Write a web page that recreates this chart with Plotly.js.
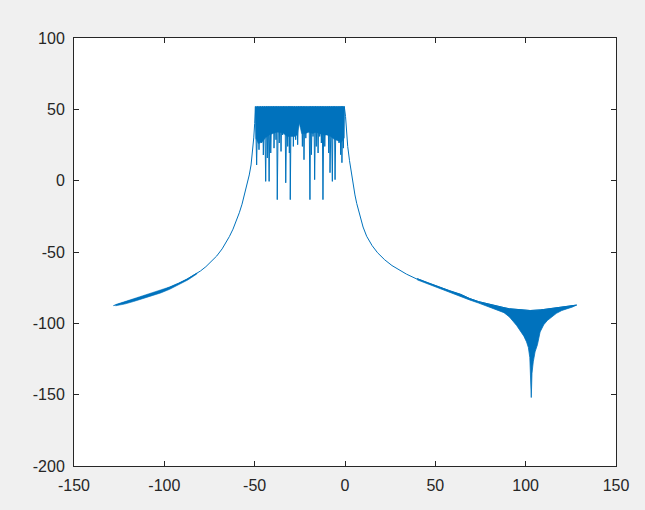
<!DOCTYPE html>
<html>
<head>
<meta charset="utf-8">
<script src="https://cdn.plot.ly/plotly-3.0.1.min.js"></script>
<style>
  html, body { margin: 0; padding: 0; background: #f0f0f0; }
  #chart { width: 645px; height: 510px; }
</style>
</head>
<body>
<div id="chart"></div>
<script>
// ---- Data ----
// Left skirt (centre line)
const leftX = [-128.2, -124, -120, -116, -112, -108, -104, -100, -96, -92, -88, -84, -80, -77, -74, -71, -68, -66, -64, -62, -60, -58.5, -57, -55.5, -54, -53, -52, -51.2, -50.5, -50, -49.6];
const leftY = [-87.6, -86.0, -84.4, -82.8, -81.1, -79.7, -78.1, -76.3, -74.3, -72.0, -69.5, -66.6, -63.3, -60.3, -56.9, -52.8, -47.8, -43.8, -39.2, -34.0, -28.0, -22.5, -16.5, -9.5, -2.0, 4, 11, 19, 30, 40, 52];

// Thin band on the far-left skirt
const leftBandX  = [-127, -122, -117, -112, -107, -102, -97, -92, -87, -82];
const leftBandHi = [-86.9, -84.9, -82.8, -80.8, -78.9, -76.8, -74.5, -71.7, -68.6, -64.8];
const leftBandLo = [-87.7, -86.5, -84.7, -82.7, -80.9, -78.7, -76.1, -73.1, -69.6, -65.4];

const topPeakX = [-49.6, -48.3, -46.9, -45.6, -44.5, -43.4, -42.5, -41.5, -40.5, -39.6, -38.7, -37.8, -36.9, -35.9, -34.9, -34.0, -33.2, -32.2, -31.2, -30.5, -29.8, -28.9, -27.9, -26.7, -25.7, -24.8, -24.0, -23.1, -22.2, -21.1, -19.9, -19.0, -18.1, -17.2, -16.3, -15.4, -14.4, -13.5, -12.6, -11.7, -10.6, -9.5, -8.6, -7.6, -6.6, -5.9, -4.9, -3.8, -2.8, -2.0, -1.3, -0.4];
const topPeakY = [52, 52, 52, 52, 52, 52, 52, 52, 52, 52, 52, 52, 52, 52, 52, 52, 52, 52, 52, 52, 52, 52, 52, 52, 52, 52, 52, 52, 52, 52, 52, 52, 52, 52, 52, 52, 52, 52, 52, 52, 52, 52, 52, 52, 52, 52, 52, 52, 52, 52, 52, 52];
const topDipX = [-48.9, -47.6, -46.1, -45.2, -43.9, -43.0, -42.0, -41.1, -40.0, -39.3, -38.2, -37.5, -36.4, -35.4, -34.5, -33.6, -32.8, -31.7, -30.8, -30.3, -29.3, -28.6, -27.3, -26.2, -25.2, -24.5, -23.6, -22.7, -21.7, -20.5, -19.4, -18.6, -17.7, -16.8, -15.9, -14.9, -14.0, -13.1, -12.2, -11.2, -10.1, -9.0, -8.3, -7.0, -6.3, -5.5, -4.4, -3.3, -2.4, -1.7, -0.9];
const topDipY = [11, 21.7, 26.5, 18, -0.5, 15.9, -0.5, 19.4, 35.7, 22.8, 28.7, -13.3, 26.4, 20.5, 32, 45, -1.5, 24, 19.4, -13.3, 35.7, 24, 28.7, 25.2, 49, 43.8, 24, 14.7, 29.8, 35.7, -13.3, 18.2, 31, 0.7, 24, 19.4, 31, 26.4, -13.3, 24, 35.7, 19.4, 5.6, -0.5, 31, 0.7, 28.7, 26.4, 18.2, 12.6, 22.8];

// Solid (densely filled) part of the passband: lower edge
const solidX  = [-49.5, -48, -46, -44, -42, -40, -38, -36, -34, -32, -30, -28, -26.5, -25.3, -24, -22, -20, -18, -16, -14, -12, -10, -8, -6, -4, -2, -0.4];
const solidLo = [30, 26, 27, 30, 32, 33, 34, 34, 33, 31, 31, 31, 32, 40, 33, 33, 34, 33, 34, 33, 32, 32, 31, 29, 28, 27, 30];

// Right skirt (centre line)
const rightX = [0.3, 0.8, 1.5, 2.5, 3.5, 4.5, 5.5, 6.5, 8, 10, 12, 15, 18, 22, 26, 30, 34, 40];
const rightY = [45, 34, 24, 14, 5, -3, -10, -16, -24, -32.5, -39, -45.5, -50.5, -55.5, -59.5, -62.7, -65.5, -69.1];

// Aliased band on the right: upper and lower envelopes
const bandX  = [40, 46, 52, 58, 64, 69, 74, 80, 84, 88, 91, 93, 95, 97, 99, 100.5, 101.5, 102.3, 102.8, 103.1, 103.5, 104.2, 105.2, 106.5, 108, 110, 112, 114.2, 117, 120, 123, 126, 128.2];
const bandHi = [-68.7, -71.7, -74.6, -77.2, -79.7, -82.6, -84.8, -86.8, -88, -89, -89.8, -90.1, -90.4, -90.7, -90.9, -91, -91, -91, -91, -91, -91, -91, -91, -91, -90.6, -90.3, -90, -89.6, -89, -88.4, -87.9, -87.5, -87.2];
const bandLo = [-69.5, -72.7, -75.8, -78.5, -81.2, -83.6, -85.8, -88.5, -90.5, -92.5, -95.5, -98.5, -101.5, -105, -109, -113, -117, -124, -135, -152, -135, -127, -120, -115, -106, -101, -98, -96, -93, -91, -89.8, -88.5, -87.2];

// Axis ticks
const xTicks = [-150, -100, -50, 0, 50, 100, 150];
const yTicks = [-200, -150, -100, -50, 0, 50, 100];

// ---- Build traces ----
const blue = '#0072BD';

// Interleave passband peaks and dips
const topX = [], topY = [];
for (let i = 0; i < topPeakX.length; i++) {
  topX.push(topPeakX[i]); topY.push(topPeakY[i]);
  if (i < topDipX.length) { topX.push(topDipX[i]); topY.push(topDipY[i]); }
}

const mainX = leftX.concat(topX, rightX, bandX);
const mainY = leftY.concat(topY, rightY, bandHi);

const solidTop = solidX.map(() => topPeakY[0]);

const traces = [
  {
    x: solidX.concat(solidX.slice().reverse()),
    y: solidTop.concat(solidLo.slice().reverse()),
    type: 'scatter', mode: 'lines', fill: 'toself', fillcolor: blue,
    line: { color: blue, width: 0.5 }, hoverinfo: 'skip', showlegend: false
  },
  {
    x: mainX, y: mainY, type: 'scatter', mode: 'lines',
    line: { color: blue, width: 1 }, hoverinfo: 'skip', showlegend: false
  },
  {
    x: leftBandX.concat(leftBandX.slice().reverse()),
    y: leftBandHi.concat(leftBandLo.slice().reverse()),
    type: 'scatter', mode: 'lines', fill: 'toself', fillcolor: blue,
    line: { color: blue, width: 0.6 }, hoverinfo: 'skip', showlegend: false
  },
  {
    x: bandX.concat(bandX.slice().reverse()),
    y: bandHi.concat(bandLo.slice().reverse()),
    type: 'scatter', mode: 'lines', fill: 'toself', fillcolor: blue,
    line: { color: blue, width: 0.8 }, hoverinfo: 'skip', showlegend: false
  }
];

const axisCommon = {
  showgrid: false, zeroline: false, showline: true, mirror: 'ticks',
  linecolor: '#262626', linewidth: 1,
  ticks: 'inside', ticklen: 5, tickwidth: 1, tickcolor: '#262626',
  tickfont: { family: 'Liberation Sans, Arial, sans-serif', size: 16, color: '#262626' },
  tickmode: 'array'
};

const layout = {
  width: 645, height: 510,
  paper_bgcolor: '#f0f0f0', plot_bgcolor: '#ffffff',
  margin: { l: 74, r: 29, t: 38, b: 44 },
  xaxis: Object.assign({}, axisCommon, {
    range: [-150, 150], tickvals: xTicks, ticktext: xTicks.map(String),
    ticklabelstandoff: 5
  }),
  yaxis: Object.assign({}, axisCommon, {
    range: [-200, 100], tickvals: yTicks, ticktext: yTicks.map(String),
    ticklabelstandoff: 5
  }),
  showlegend: false
};

Plotly.newPlot('chart', traces, layout, { displayModeBar: false, staticPlot: true });
</script>
</body>
</html>
